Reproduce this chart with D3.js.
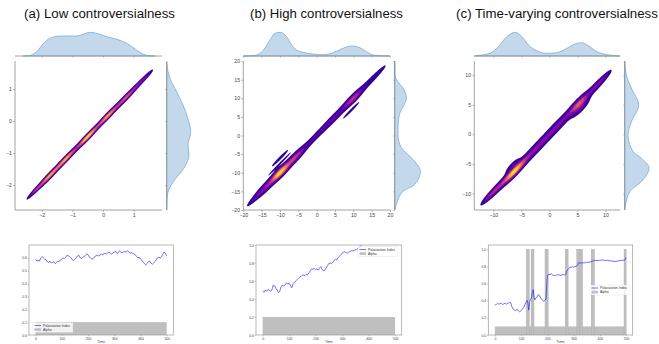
<!DOCTYPE html>
<html><head><meta charset="utf-8">
<script src="https://cdn.jsdelivr.net/npm/d3@7"></script>
<style>body{margin:0;background:#fff}svg{display:block}text{font-family:"Liberation Sans",Arial,Helvetica,sans-serif}</style>
</head><body><svg id="c" width="659" height="344"></svg>
<script>
// ---------------- DATA ----------------
const titles = ["(a) Low controversialness", "(b) High controversialness", "(c) Time-varying controversialness"];

// joint KDE components: [cx, cy, sigmaAlong, sigmaAcross, height]
const lowComponents = [
  [-2.20, -2.16, 0.20, 0.030, 0.35],
  [-1.75, -1.72, 0.30, 0.040, 0.70],
  [-1.20, -1.17, 0.30, 0.040, 0.72],
  [-0.50, -0.49, 0.30, 0.040, 0.85],
  [0.15, 0.16, 0.30, 0.040, 0.70],
  [0.75, 0.74, 0.30, 0.040, 0.50],
  [1.20, 1.19, 0.22, 0.035, 0.25],
  [1.45, 1.43, 0.15, 0.030, 0.15]
];
const highComponents = [
  [-10, -10, 2.2, 0.55, 1.00],
  [-14, -14, 2.5, 0.55, 0.35],
  [-17, -17, 1.8, 0.35, 0.15],
  [-6, -6, 2.5, 0.55, 0.45],
  [0, 0, 5.0, 0.45, 0.20],
  [5, 5, 3.0, 0.50, 0.20],
  [10, 10, 2.5, 0.50, 0.50],
  [15, 15, 2.5, 0.45, 0.15],
  [17.5, 17.5, 1.5, 0.30, 0.08],
  [-10.0, -6.1, 2.6, 0.30, 0.11],
  [-10.1, -7.6, 3.6, 0.18, 0.11],
  [9.4, 6.75, 2.6, 0.25, 0.11]
];
const varyingComponents = [
  [-6.3, -6.3, 1.8, 0.34, 1.00],
  [-9.5, -9.3, 1.5, 0.30, 0.40],
  [-11.0, -10.7, 1.0, 0.22, 0.20],
  [-6.6, -5.3, 1.0, 0.26, 0.18],
  [-2.5, -2.5, 2.5, 0.38, 0.35],
  [1.5, 1.5, 2.5, 0.40, 0.30],
  [5.3, 5.2, 1.6, 0.38, 0.60],
  [5.6, 4.4, 1.2, 0.30, 0.22],
  [8.5, 8.3, 1.5, 0.30, 0.30],
  [10.0, 9.8, 0.9, 0.22, 0.15]
];
const kdeLevels = [0.05, 0.155, 0.26, 0.365, 0.47, 0.575, 0.68, 0.785, 0.89];

// marginal densities: [value, density]
const lowTopMarginal = [[-2.6,0],[-2.43,0.3],[-2.16,4.3],[-1.94,12.7],[-1.73,17.7],[-1.40,20],[-0.86,20],[-0.42,23.7],[-0.10,21.7],[0.12,19.3],[0.45,16.7],[0.77,12.7],[1.09,6],[1.31,1.7],[1.53,0.2],[1.7,0]];
const lowRightMarginal = [[1.84,0],[1.75,0.3],[1.34,3.3],[0.91,10],[0.5,16.3],[0.09,21],[-0.34,24],[-0.75,21.3],[-1.06,22.3],[-1.47,17.3],[-1.91,6.3],[-2.22,1.3],[-2.47,0.3],[-2.78,0]];
const highTopMarginal = [[-20,0],[-17.3,0.3],[-16,1.5],[-14.5,6],[-12.7,16],[-11.4,22.7],[-10,23.7],[-8.2,19.3],[-6.8,11],[-5.5,6],[-3.7,3.7],[-1,2],[1.7,1.3],[4.5,3.3],[7.2,7.7],[9.5,10],[11.8,8.3],[13.6,4.3],[15.4,1],[17.3,0.2],[20,0]];
const highRightMarginal = [[20,0],[16.3,0.3],[14.5,3],[12.8,8.3],[10,11.7],[7.5,8],[5.6,4.7],[2.3,3.3],[0.2,3.3],[-3.3,6.7],[-6,16.7],[-9.7,25.7],[-13.2,19.7],[-15,8.3],[-17.7,2.7],[-20,0.3]];
const varyingTopMarginal = [[-13.4,0],[-13,0.3],[-10.6,2.7],[-9.1,9.3],[-7.6,19.3],[-6.1,23.7],[-4.9,19.3],[-3.75,11],[-2.25,5.3],[-0.5,2.7],[1.3,3.3],[3.1,7.7],[4.9,12.7],[5.8,13.3],[7.0,10],[8.5,4.3],[9.9,1.7],[12,0.2],[12.6,0]];
const varyingRightMarginal = [[12.4,0],[11.7,0.3],[10,1.7],[7.8,6.7],[4.95,14],[2.1,6.7],[-0.1,3.3],[-2.9,8.3],[-4.05,16.7],[-5.7,24.3],[-8,16.7],[-9.7,5],[-12.5,0.3],[-12.8,0]];

// tick labels
const lowTicks = [-2, -1, 0, 1];
const highTicks = [-20, -15, -10, -5, 0, 5, 10, 15, 20];
const varyingTicks = [-10, -5, 0, 5, 10];
const timeTicks = [0, 100, 200, 300, 400, 500];
const lowIndexTicks = [0, 0.1, 0.2, 0.3, 0.4, 0.5, 0.6];
const indexTicks = [0, 0.2, 0.4, 0.6, 0.8, 1.0];
const legendLabels = ["Polarization Index", "Alpha"];

// polarization index time series: [t, value]
const lowIndex = [[0,0.59],[5,0.575],[10,0.58],[15,0.575],[20,0.6],[25,0.61],[30,0.6],[35,0.59],[40,0.585],[45,0.57],[50,0.565],[55,0.575],[60,0.56],[65,0.565],[70,0.57],[75,0.555],[80,0.565],[85,0.575],[90,0.57],[95,0.585],[100,0.59],[105,0.6],[110,0.595],[115,0.605],[120,0.62],[125,0.615],[130,0.61],[135,0.6],[140,0.585],[145,0.58],[150,0.59],[155,0.6],[160,0.615],[165,0.62],[170,0.6],[175,0.595],[180,0.605],[185,0.61],[190,0.62],[195,0.63],[200,0.625],[205,0.605],[210,0.6],[215,0.59],[220,0.595],[225,0.61],[230,0.615],[235,0.62],[240,0.615],[245,0.62],[250,0.63],[255,0.625],[260,0.63],[265,0.635],[270,0.63],[275,0.64],[280,0.645],[285,0.635],[290,0.63],[295,0.64],[300,0.645],[305,0.65],[310,0.635],[315,0.64],[320,0.655],[325,0.645],[330,0.64],[335,0.645],[340,0.65],[345,0.645],[350,0.655],[355,0.65],[360,0.635],[365,0.64],[370,0.635],[375,0.63],[380,0.625],[385,0.61],[390,0.6],[395,0.605],[400,0.59],[405,0.58],[410,0.57],[415,0.555],[420,0.545],[425,0.555],[430,0.57],[435,0.575],[440,0.56],[445,0.55],[450,0.56],[455,0.57],[460,0.585],[465,0.6],[470,0.605],[475,0.6],[480,0.61],[485,0.625],[490,0.645],[495,0.635],[500,0.615]];
const highIndex = [[0,0.49],[5,0.475],[10,0.5],[15,0.485],[20,0.505],[25,0.5],[30,0.485],[35,0.5],[40,0.555],[45,0.545],[50,0.52],[55,0.5],[60,0.47],[65,0.49],[70,0.54],[75,0.55],[80,0.545],[85,0.56],[90,0.58],[95,0.565],[100,0.575],[105,0.55],[110,0.525],[115,0.57],[120,0.585],[125,0.6],[130,0.615],[135,0.63],[140,0.645],[145,0.65],[150,0.665],[155,0.665],[160,0.66],[165,0.675],[170,0.67],[175,0.69],[180,0.715],[185,0.735],[190,0.73],[195,0.74],[200,0.725],[205,0.735],[210,0.72],[215,0.745],[220,0.76],[225,0.73],[230,0.71],[235,0.725],[240,0.745],[245,0.77],[250,0.795],[255,0.8],[260,0.795],[265,0.81],[270,0.83],[275,0.84],[280,0.835],[285,0.86],[290,0.875],[295,0.89],[300,0.91],[305,0.92],[310,0.925],[315,0.915],[320,0.91],[325,0.92],[330,0.93],[335,0.935],[340,0.935],[345,0.94],[350,0.945],[355,0.95],[360,0.96],[365,0.975],[370,0.99],[375,1.01]];
const varyingIndex = [[0,0.35],[5,0.355],[10,0.37],[15,0.36],[20,0.365],[25,0.37],[30,0.355],[35,0.365],[40,0.37],[45,0.36],[50,0.37],[55,0.38],[60,0.375],[65,0.33],[70,0.3],[75,0.29],[80,0.285],[85,0.3],[90,0.28],[95,0.27],[100,0.285],[105,0.3],[110,0.32],[115,0.36],[120,0.39],[123,0.405],[126,0.37],[129,0.29],[132,0.38],[135,0.41],[140,0.44],[143,0.5],[146,0.53],[149,0.45],[152,0.41],[155,0.43],[160,0.44],[165,0.47],[170,0.46],[175,0.43],[180,0.41],[185,0.395],[190,0.405],[195,0.42],[198,0.6],[200,0.69],[205,0.71],[210,0.705],[215,0.715],[220,0.7],[225,0.695],[230,0.69],[235,0.7],[240,0.705],[245,0.7],[250,0.695],[255,0.7],[260,0.705],[265,0.7],[270,0.705],[273,0.74],[277,0.76],[280,0.77],[285,0.79],[290,0.79],[295,0.795],[300,0.79],[305,0.8],[310,0.8],[315,0.82],[318,0.84],[320,0.845],[325,0.84],[330,0.84],[335,0.845],[340,0.84],[345,0.845],[350,0.85],[355,0.845],[360,0.85],[365,0.855],[370,0.86],[375,0.865],[380,0.87],[390,0.87],[400,0.872],[410,0.875],[420,0.87],[430,0.872],[440,0.865],[450,0.86],[460,0.858],[470,0.865],[480,0.87],[490,0.872],[495,0.875],[500,0.905]];

// alpha bars: [tStart, tEnd, value]
const lowAlpha = [[0, 500, 0.1]];
const highAlpha = [[0, 500, 0.2]];
const varyingAlpha = [[0, 500, 0.1],[120,131,1.0],[138,149,1.0],[191,203,1.0],[268,279,1.0],[312,322,1.0],[323,334,1.0],[367,379,1.0],[492,500,1.0]];

// ---------------- LAYOUT ----------------
const svg = d3.select("#c");
const panels = [
  {title: titles[0], tx: [24, 175], comps: lowComponents, xd: [-2.87, 1.92], yd: [-2.78, 1.875], mx: [15, 162], ticks: lowTicks,
   top: lowTopMarginal, right: lowRightMarginal,
   line: {x: [29, 173.3], yd: [0, 0.7], yticks: lowIndexTicks, data: lowIndex, alpha: lowAlpha, legend: [33, 322.5]}},
  {title: titles[1], tx: [250, 403], comps: highComponents, xd: [-20, 20], yd: [-20, 20], mx: [243.3, 390], ticks: highTicks,
   top: highTopMarginal, right: highRightMarginal,
   line: {x: [256, 401.7], yd: [0, 1.0], yticks: indexTicks, data: highIndex, alpha: highAlpha, legend: [358, 246.5]}},
  {title: titles[2], tx: [456, 658], comps: varyingComponents, xd: [-13.4, 12.6], yd: [-12.8, 12.4], mx: [474.3, 620], ticks: varyingTicks,
   top: varyingTopMarginal, right: varyingRightMarginal,
   line: {x: [488.3, 632.7], yd: [0, 1.05], yticks: indexTicks, data: varyingIndex, alpha: varyingAlpha, legend: [590, 285]}}
];
const mainTop = 61, mainBottom = 210, margBase = 56, margH = 26, rightGap = 4.7, margW = 28;
const spineColor = "#8a8a8a", tickText = "#444";

function compDensity(x, y, c) {
  const dx = x - c[0], dy = y - c[1];
  const u = (dx + dy) / Math.SQRT2, v = (dy - dx) / Math.SQRT2;
  return c[4] * Math.exp(-0.5 * (u * u / (c[2] * c[2]) + v * v / (c[3] * c[3])));
}

function drawKde(g, xs, ys, comps) {
  const left = xs.range()[0], right = xs.range()[1];
  const top = ys.range()[1], bottom = ys.range()[0];
  const res = 0.5;
  const nx = Math.ceil((right - left) / res), ny = Math.ceil((bottom - top) / res);
  const vals = new Float64Array(nx * ny);
  for (let j = 0; j < ny; j++) {
    const y = ys.invert(top + (j + 0.5) * res);
    for (let i = 0; i < nx; i++) {
      const x = xs.invert(left + (i + 0.5) * res);
      let s = 0;
      for (const c of comps) s += compDensity(x, y, c);
      vals[j * nx + i] = s;
    }
  }
  const mx = d3.max(vals);
  const cs = d3.contours().size([nx, ny]).thresholds(kdeLevels.map(f => f * mx))(vals);
  const proj = d3.geoTransform({point(x, y) { this.stream.point(left + x * res, top + y * res); }});
  const path = d3.geoPath(proj);
  g.selectAll("path.kde").data(cs).join("path").attr("class", "kde")
    .attr("d", path)
    .attr("fill", (d, i) => d3.interpolatePlasma((i + 0.5) / cs.length));
}

panels.forEach(p => {
  const g = svg.append("g");
  const t = g.append("text").attr("x", (p.tx[0] + p.tx[1]) / 2).attr("y", 17.5).attr("text-anchor", "middle")
    .attr("font-size", 12).attr("fill", "#111").text(p.title);
  const w = t.node().getComputedTextLength();
  if (w > 0) t.attr("font-size", 12 * (p.tx[1] - p.tx[0]) / w);

  const xs = d3.scaleLinear().domain(p.xd).range(p.mx);
  const ys = d3.scaleLinear().domain(p.yd).range([mainBottom, mainTop]);

  drawKde(g.append("g"), xs, ys, p.comps);

  // main axes (left + bottom spines)
  const ax = g.append("g").attr("transform", `translate(0,${mainBottom})`)
    .call(d3.axisBottom(xs).tickValues(p.ticks).tickSize(2).tickPadding(1.2).tickFormat(d3.format("d")));
  const ay = g.append("g").attr("transform", `translate(${p.mx[0]},0)`)
    .call(d3.axisLeft(ys).tickValues(p.ticks).tickSize(2).tickPadding(1.2).tickFormat(d3.format("d")));
  [ax, ay].forEach(a => {
    a.select(".domain").attr("stroke", spineColor).attr("stroke-width", 0.8);
    a.selectAll(".tick line").attr("stroke", spineColor).attr("stroke-width", 0.6);
    a.selectAll(".tick text").attr("font-size", 5.2).attr("fill", tickText)
      .attr("font-family", "DejaVu Sans, sans-serif");
  });
  ax.select(".domain").attr("d", `M${p.mx[0]},0H${p.mx[1]}`);
  ay.select(".domain").attr("d", `M0,${mainBottom}V${mainTop}`);

  // top marginal
  const hs = d3.scaleLinear().domain([0, margH]).range([margBase, margBase - margH]);
  g.append("path").datum(p.top)
    .attr("d", d3.area().x(d => xs(d[0])).y0(margBase).y1(d => hs(d[1])).curve(d3.curveMonotoneX))
    .attr("fill", "#c4d8ec").attr("stroke", "#6ea4d2").attr("stroke-width", 0.7);
  const tm = g.append("g").attr("transform", `translate(0,${margBase})`)
    .call(d3.axisBottom(xs).tickValues(p.ticks).tickSize(1.5).tickFormat(""));
  tm.select(".domain").attr("d", `M${p.mx[0]},0H${p.mx[1]}`).attr("stroke", spineColor).attr("stroke-width", 0.8);
  tm.selectAll(".tick line").attr("stroke", spineColor).attr("stroke-width", 0.6);

  // right marginal
  const sx = p.mx[1] + rightGap;
  const ws = d3.scaleLinear().domain([0, margW]).range([sx, sx + margW]);
  g.append("path").datum(p.right)
    .attr("d", d3.area().y(d => ys(d[0])).x0(sx).x1(d => ws(d[1])).curve(d3.curveMonotoneY))
    .attr("fill", "#c4d8ec").attr("stroke", "#6ea4d2").attr("stroke-width", 0.7);
  const rm = g.append("g").attr("transform", `translate(${sx},0)`)
    .call(d3.axisLeft(ys).tickValues(p.ticks).tickSize(1.5).tickFormat(""));
  rm.select(".domain").attr("d", `M0,${mainBottom}V${mainTop}`).attr("stroke", spineColor).attr("stroke-width", 0.8);
  rm.selectAll(".tick line").attr("stroke", spineColor).attr("stroke-width", 0.6);

  // ---- polarization index chart ----
  const L = p.line;
  const lx = d3.scaleLinear().domain([-25, 525]).range(L.x);
  const ly = d3.scaleLinear().domain(L.yd).range([335, 245]);
  const lg = g.append("g");
  const clipId = "clip" + Math.round(L.x[0]);
  lg.append("clipPath").attr("id", clipId).append("rect")
    .attr("x", L.x[0]).attr("y", 245).attr("width", L.x[1] - L.x[0]).attr("height", 90);
  const inner = lg.append("g").attr("clip-path", `url(#${clipId})`);
  inner.selectAll("rect.bar").data(L.alpha).join("rect").attr("class", "bar")
    .attr("x", d => lx(d[0])).attr("width", d => lx(d[1]) - lx(d[0]))
    .attr("y", d => ly(d[2])).attr("height", d => ly(0) - ly(d[2]))
    .attr("fill", "#bfbfbf").attr("stroke", (d, i) => i ? "#a9a9a9" : "none").attr("stroke-width", 0.4);
  inner.append("path").datum(L.data)
    .attr("d", d3.line().x(d => lx(d[0])).y(d => ly(d[1])))
    .attr("fill", "none").attr("stroke", "#1010ff").attr("stroke-width", 0.6);

  const bx = lg.append("g").attr("transform", "translate(0,335)")
    .call(d3.axisBottom(lx).tickValues(timeTicks).tickSize(1.3).tickPadding(0.8));
  const by = lg.append("g").attr("transform", `translate(${L.x[0]},0)`)
    .call(d3.axisLeft(ly).tickValues(L.yticks).tickSize(1.3).tickPadding(0.8).tickFormat(d3.format(".1f")));
  [bx, by].forEach(a => {
    a.select(".domain").remove();
    a.selectAll(".tick line").attr("stroke", "#777").attr("stroke-width", 0.4);
    a.selectAll(".tick text").attr("font-size", 3.4).attr("fill", tickText)
      .attr("font-family", "DejaVu Sans, sans-serif");
  });
  lg.append("rect").attr("x", L.x[0]).attr("y", 245).attr("width", L.x[1] - L.x[0]).attr("height", 90)
    .attr("fill", "none").attr("stroke", "#9a9a9a").attr("stroke-width", 0.7);
  lg.append("text").attr("x", (L.x[0] + L.x[1]) / 2).attr("y", 343).attr("text-anchor", "middle")
    .attr("font-size", 3.6).attr("fill", tickText).attr("font-family", "DejaVu Sans, sans-serif").text("Time");

  // legend
  const [lgx, lgy] = L.legend;
  const leg = lg.append("g").attr("transform", `translate(${lgx},${lgy})`);
  leg.append("rect").attr("width", 40).attr("height", 10).attr("rx", 0.6)
    .attr("fill", "#fff").attr("fill-opacity", 0.8).attr("stroke", "#d0d0d0").attr("stroke-width", 0.3);
  leg.append("line").attr("x1", 1.5).attr("x2", 8).attr("y1", 3).attr("y2", 3)
    .attr("stroke", "#1010ff").attr("stroke-width", 0.6);
  leg.append("rect").attr("x", 1.5).attr("y", 5.8).attr("width", 6.5).attr("height", 2.6).attr("fill", "#bfbfbf");
  leg.selectAll("text").data(legendLabels).join("text")
    .attr("x", 10).attr("y", (d, i) => 4.2 + i * 4).attr("font-size", 3.4).attr("fill", "#333")
    .attr("font-family", "DejaVu Sans, sans-serif").text(d => d);
});
</script></body></html>
